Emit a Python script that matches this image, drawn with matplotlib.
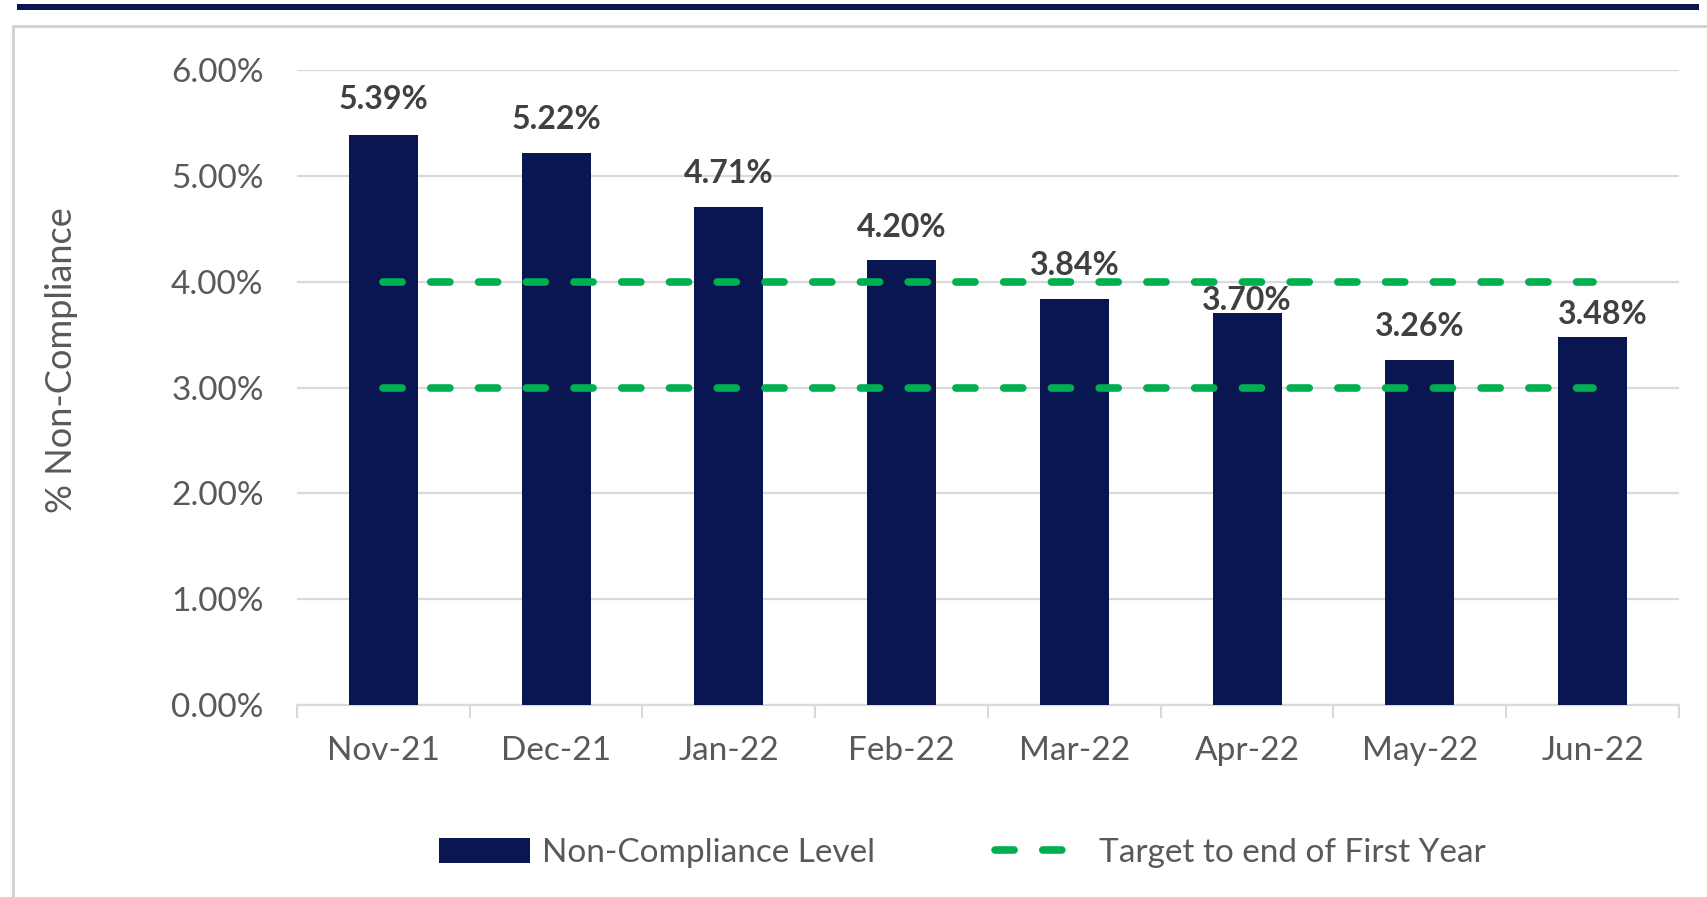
import matplotlib.pyplot as plt
import numpy as np
from matplotlib.lines import Line2D
from matplotlib.patches import Patch, Rectangle

months = ["Nov-21", "Dec-21", "Jan-22", "Feb-22", "Mar-22", "Apr-22", "May-22", "Jun-22"]
non_compliance = [5.39, 5.22, 4.71, 4.20, 3.84, 3.70, 3.26, 3.48]
target_upper = [4.0] * len(months)
target_lower = [3.0] * len(months)
yticks = [0, 1, 2, 3, 4, 5, 6]

NAVY = "#0a1652"
GREEN = "#00b050"
GREY_TXT = "#595959"
LABEL_TXT = "#404040"
GRID = "#d9d9d9"

# label offsets in points (Excel had two labels nudged by hand)
label_dy = [25, 24, 24, 24, 24, 9, 24, 16]
label_dx = [0, 0, 0, 0, 0, 0, 0, 7]

plt.rcParams["font.family"] = ["Lato", "DejaVu Sans"]

fig = plt.figure(figsize=(17.08, 8.97), dpi=100)

# outer frame and top rule
fig.patches.append(Rectangle((13 / 1708, -0.1), 1.2, 1 - 26 / 897 + 0.1,
                             transform=fig.transFigure, fill=False,
                             edgecolor="#d0d0d0", linewidth=2))
fig.patches.append(Rectangle((17 / 1708, 1 - 10 / 897), 1682 / 1708, 6 / 897,
                             transform=fig.transFigure, facecolor=NAVY,
                             edgecolor="none"))

ax = fig.add_axes([297 / 1708, 1 - 705 / 897, 1382 / 1708, 635 / 897])
x = np.arange(len(months))

ax.bar(x, non_compliance, width=0.4, color=NAVY, zorder=3)

dash = (0, (2.5, 3.75))
for tgt in (target_upper, target_lower):
    ax.plot(x, tgt, color=GREEN, linewidth=5.5, linestyle=dash,
            dash_capstyle="round", zorder=4)

for i, v in enumerate(non_compliance):
    ax.annotate(f"{v:.2f}%", (x[i], v), xytext=(label_dx[i], label_dy[i]),
                textcoords="offset points", ha="center", va="center",
                fontsize=23, fontweight="bold", color=LABEL_TXT, zorder=5)

ax.set_xlim(-0.5, len(months) - 0.5)
ax.set_ylim(0, 6)
ax.set_yticks(yticks)
ax.set_yticklabels([f"{t:.2f}%" for t in yticks])
ax.yaxis.grid(True, color=GRID, linewidth=1.6, zorder=0)
ax.set_axisbelow(True)
ax.tick_params(axis="y", length=0, pad=24, labelsize=24, labelcolor=GREY_TXT)

ax.set_xticks(x)
ax.set_xticklabels(months)
ax.set_xticks(np.arange(-0.5, len(months)), minor=True)
ax.tick_params(axis="x", which="major", length=0, pad=22, labelsize=24,
               labelcolor=GREY_TXT)
ax.tick_params(axis="x", which="minor", length=9, width=1.5, color=GRID)

for side in ("top", "right", "left"):
    ax.spines[side].set_visible(False)
ax.spines["bottom"].set_color(GRID)
ax.spines["bottom"].set_linewidth(1.6)

fig.text(62 / 1708, 1 - 360 / 897, "% Non-Compliance", rotation=90,
         ha="center", va="center", fontsize=26, color=GREY_TXT)

handles = [
    Patch(facecolor=NAVY, edgecolor="none"),
    Line2D([0], [0], color=GREEN, linewidth=5.5, linestyle=dash,
           dash_capstyle="round"),
]
fig.legend(handles, ["Non-Compliance Level", "Target to end of First Year"],
           loc="center", bbox_to_anchor=(962 / 1708, 1 - 853 / 897), ncol=2,
           frameon=False, fontsize=24, labelcolor=GREY_TXT, handlelength=2.75,
           handleheight=0.75, handletextpad=0.35, columnspacing=3.6)

fig.savefig("out.png", dpi=100, facecolor="white")
